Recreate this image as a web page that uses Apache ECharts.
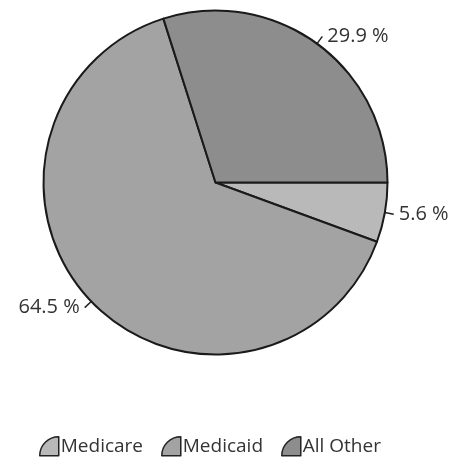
<!DOCTYPE html>
<html>
<head>
<meta charset="utf-8">
<script src="https://cdn.jsdelivr.net/npm/echarts@6/dist/echarts.min.js"></script>
<style>
  html, body { margin: 0; padding: 0; background: #fff; }
  #chart { width: 454px; height: 458px; }
</style>
</head>
<body>
<div id="chart"></div>
<script>
// Payer mix shares (percent)
const categories = ['Medicare', 'Medicaid', 'All Other'];
const shares = [5.6, 64.5, 29.9];
const sliceColors = ['#b9b9b9', '#a3a3a3', '#8d8d8d'];

// quarter-pie legend glyph
const wedgeIcon = 'path://M20,0 L20,20 L0,20 A20,20 0 0 1 20,0 Z';

const chart = echarts.init(document.getElementById('chart'), null, { renderer: 'canvas' });

chart.setOption({
  animation: false,
  backgroundColor: '#ffffff',
  textStyle: { fontFamily: 'Open Sans, Noto Sans, sans-serif' },
  legend: {
    top: 431,
    left: 34,
    itemWidth: 19,
    itemHeight: 19,
    itemGap: 18,
    icon: wedgeIcon,
    itemStyle: { borderColor: '#222', borderWidth: 1.5 },
    textStyle: { fontSize: 19, color: '#333', padding: [0, 0, 0, -3] },
    data: categories
  },
  series: [{
    type: 'pie',
    center: [215.5, 182.5],
    radius: 172,
    startAngle: 0,
    clockwise: true,
    itemStyle: { borderColor: '#1a1a1a', borderWidth: 2 },
    label: {
      show: true,
      position: 'outside',
      formatter: '{c} %',
      fontSize: 20,
      color: '#333',
      overflow: 'none',
      distanceToLabelLine: 5
    },
    labelLine: {
      show: true,
      length: 9,
      length2: 0,
      lineStyle: { color: '#222', width: 1.5 }
    },
    emphasis: { disabled: true },
    data: categories.map((name, i) => ({
      name: name,
      value: shares[i],
      itemStyle: { color: sliceColors[i] }
    }))
  }]
});
</script>
</body>
</html>
